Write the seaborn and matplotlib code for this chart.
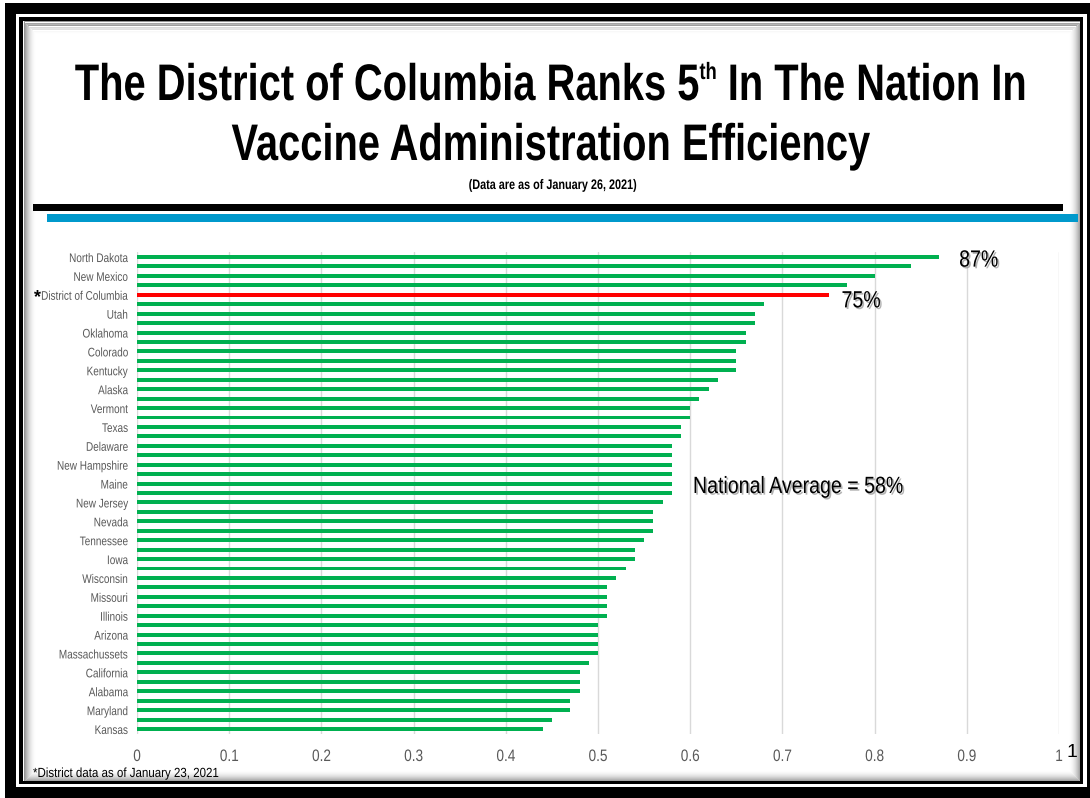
import matplotlib
matplotlib.use("Agg")
import numpy as np
import pandas as pd
import seaborn as sns
import matplotlib.pyplot as plt
import matplotlib.patheffects as pe
from matplotlib.patches import Rectangle
from matplotlib.transforms import Affine2D, Bbox

# ---- data -------------------------------------------------------------
rank_labels = [
    "North Dakota", "", "New Mexico", "", "District of Columbia", "",
    "Utah", "", "Oklahoma", "", "Colorado", "", "Kentucky", "", "Alaska", "",
    "Vermont", "", "Texas", "", "Delaware", "", "New Hampshire", "", "Maine", "",
    "New Jersey", "", "Nevada", "", "Tennessee", "", "Iowa", "", "Wisconsin", "",
    "Missouri", "", "Illinois", "", "Arizona", "", "Massachussets", "",
    "California", "", "Alabama", "", "Maryland", "", "Kansas",
]
efficiency = [
    0.87, 0.84, 0.80, 0.77, 0.75, 0.68, 0.67, 0.67, 0.66, 0.66,
    0.65, 0.65, 0.65, 0.63, 0.62, 0.61, 0.60, 0.60, 0.59, 0.59,
    0.58, 0.58, 0.58, 0.58, 0.58, 0.58, 0.57, 0.56, 0.56, 0.56,
    0.55, 0.54, 0.54, 0.53, 0.52, 0.51, 0.51, 0.51, 0.51, 0.50,
    0.50, 0.50, 0.50, 0.49, 0.48, 0.48, 0.48, 0.47, 0.47, 0.45,
    0.44,
]
highlight = "District of Columbia"
national_average = 0.58
x_ticks = [0, 0.1, 0.2, 0.3, 0.4, 0.5, 0.6, 0.7, 0.8, 0.9, 1.0]
x_tick_labels = ["0", "0.1", "0.2", "0.3", "0.4", "0.5", "0.6", "0.7", "0.8", "0.9", "1"]

title_runs = [("The District of Columbia Ranks 5", 28.7, 0),
              ("th", 13.2, 21),
              (" In The Nation In", 28.7, 0)]
title_line2 = "Vaccine Administration Efficiency"
subtitle = "(Data are as of January 26, 2021)"
footnote = "*District data as of January 23, 2021"
page_number = "1"

# ---- style ------------------------------------------------------------
sns.set_theme(style="white")
plt.rcParams["font.family"] = ["Liberation Sans", "DejaVu Sans"]

W, H = 1090, 798
fig = plt.figure(figsize=(W / 100, H / 100), dpi=100)
fig.patch.set_facecolor("white")


def _anchor(text):
    return text.get_transform().transform(text.get_unitless_position())


class Tall(pe.AbstractPathEffect):
    """Stretch a text vertically about its anchor, giving a narrow-face look."""

    def __init__(self, text, sy, inner=None):
        super().__init__()
        self.text = text
        self.sy = sy
        self.inner = inner if inner is not None else [pe.Normal()]

    def draw_path(self, renderer, gc, tpath, affine, rgbFace=None):
        _, y0 = _anchor(self.text)
        aff = affine + Affine2D().translate(0, -y0).scale(1, self.sy).translate(0, y0)
        for eff in self.inner:
            eff.draw_path(renderer, gc, tpath, aff, rgbFace)


def tall(text, sy, shadow=False):
    inner = [pe.Normal()]
    if shadow:
        inner = [pe.SimplePatchShadow(offset=(1.2, -1.2), shadow_rgbFace="#7f7f7f", alpha=0.6),
                 pe.Normal()]
    text.set_path_effects([Tall(text, sy, inner)])
    base = type(text).get_window_extent

    # report the stretched footprint as the text's extent
    def extent(renderer=None, *args, _t=text, _sy=sy, _base=base):
        bb = _base(_t, renderer)
        _, a = _anchor(_t)
        return Bbox.from_extents(bb.x0, a + (bb.y0 - a) * _sy,
                                 bb.x1, a + (bb.y1 - a) * _sy)

    text.get_window_extent = extent
    return text


def fx(x):
    return x / W


def fy(y):
    return 1 - y / H


def frame_rect(x0, y0, x1, y1, **kw):
    fig.patches.append(Rectangle((fx(x0), fy(y1)), fx(x1) - fx(x0), fy(y0) - fy(y1),
                                 transform=fig.transFigure, **kw))


# slide frame: thick outer border, thin inner border, soft inner shadow
frame_rect(5, 3, 1092, 800, facecolor="black", edgecolor="none", zorder=-20)
frame_rect(16, 14, 1087, 787, facecolor="white", edgecolor="none", zorder=-19)
frame_rect(19, 17, 1083, 784, facecolor="black", edgecolor="none", zorder=-18)
frame_rect(23, 21, 1080, 781, facecolor="white", edgecolor="none", zorder=-17)
for k in range(12):
    frame_rect(23 + k + 0.5, 21 + k + 0.5, 1080 - k - 0.5, 781 - k - 0.5,
               facecolor="none", edgecolor="black", linewidth=0.72,
               alpha=0.42 * (1 - k / 12) ** 2, zorder=-16)

# header rules
frame_rect(33, 204, 1063, 211, facecolor="black", edgecolor="none", zorder=-15)
frame_rect(47, 214, 1078, 222, facecolor="#0099CC", edgecolor="none", zorder=-15)

# ---- chart ------------------------------------------------------------
df = pd.DataFrame({
    "row": [str(i) for i in range(len(efficiency))],
    "label": rank_labels,
    "value": efficiency,
})
df["group"] = np.where(df["label"] == highlight, "highlight", "other")

ax_left, ax_right = 137, 1059
ax_top, ax_bottom = 252.3, 733.7
ax = fig.add_axes([fx(ax_left), fy(ax_bottom), fx(ax_right) - fx(ax_left),
                   fy(ax_top) - fy(ax_bottom)])
ax.set_facecolor("none")

sns.barplot(data=df, x="value", y="row", hue="group", orient="h",
            palette={"highlight": "#FF0000", "other": "#00B050"},
            order=df["row"].tolist(), width=0.42, dodge=False, legend=False,
            saturation=1, linewidth=0, ax=ax)

ax.set_xlim(0, 1)
ax.set_ylim(len(efficiency) - 0.5, -0.5)
ax.set_xticks(x_ticks)
ax.set_xticklabels(x_tick_labels)
ax.set_yticks(range(len(rank_labels)))
ax.set_yticklabels(rank_labels)
ax.set_xlabel("")
ax.set_ylabel("")
for s in ax.spines.values():
    s.set_visible(False)
ax.xaxis.grid(True, color="#D9D9D9", linewidth=1.0)
ax.yaxis.grid(False)
ax.set_axisbelow(True)
ax.tick_params(axis="y", length=0, pad=6.5, labelsize=7.2, labelcolor="#595959")
ax.tick_params(axis="x", length=0, pad=10, labelsize=9.8, labelcolor="#595959")
for lbl in ax.get_yticklabels():
    tall(lbl, 1.25)
for lbl in ax.get_xticklabels():
    tall(lbl, 1.22)

# value labels for the leading state and the District
for name, dx, dy in [("North Dakota", 20, -3), ("District of Columbia", 13, -6)]:
    i = rank_labels.index(name)
    v = efficiency[i]
    t = ax.annotate(f"{round(v * 100)}%", xy=(v, i), xytext=(dx, dy),
                    textcoords="offset pixels", ha="left", va="center",
                    fontsize=14.1, color="black")
    tall(t, 1.2, shadow=True)

t = ax.text(0.603, 24.3, f"National Average = {round(national_average * 100)}%",
            ha="left", va="center", fontsize=14.1, color="black")
tall(t, 1.2, shadow=True)

# ---- headings ---------------------------------------------------------
TITLE_SY = 1.29
renderer = fig.canvas.get_renderer()
texts = []
for s, size, rise in title_runs:
    t = fig.text(0, 0, s, fontsize=size, fontweight="bold", color="black",
                 ha="left", va="baseline")
    tall(t, TITLE_SY)
    texts.append((t, rise))
widths = [type(t).get_window_extent(t, renderer).width for t, _ in texts]
x = 551 - sum(widths) / 2
for (t, rise), w in zip(texts, widths):
    t.set_position((fx(x), fy(100 - rise)))
    x += w

tall(fig.text(fx(551), fy(160), title_line2, fontsize=28.7, fontweight="bold",
              ha="center", va="baseline", color="black"), TITLE_SY)
tall(fig.text(fx(553), fy(189), subtitle, fontsize=7.8, fontweight="bold",
              ha="center", va="baseline", color="black"), 1.28)
tall(fig.text(fx(33), fy(777), footnote, fontsize=8.3, ha="left", va="baseline",
              color="black"), 1.15)
fig.text(fx(1066), fy(757), page_number, fontsize=14, ha="left", va="baseline",
         color="black")

# heavy asterisk in front of the District's tick label
fig.canvas.draw()
dc_tick = ax.get_yticklabels()[rank_labels.index(highlight)]
bb = type(dc_tick).get_window_extent(dc_tick, renderer)
fig.text((bb.x0 - 0.5) / W, (bb.y0 + bb.y1) / 2 / H - 0.002, "*", fontsize=13,
         fontweight="bold", ha="right", va="center", color="black")

fig.savefig("out.png", dpi=100)
